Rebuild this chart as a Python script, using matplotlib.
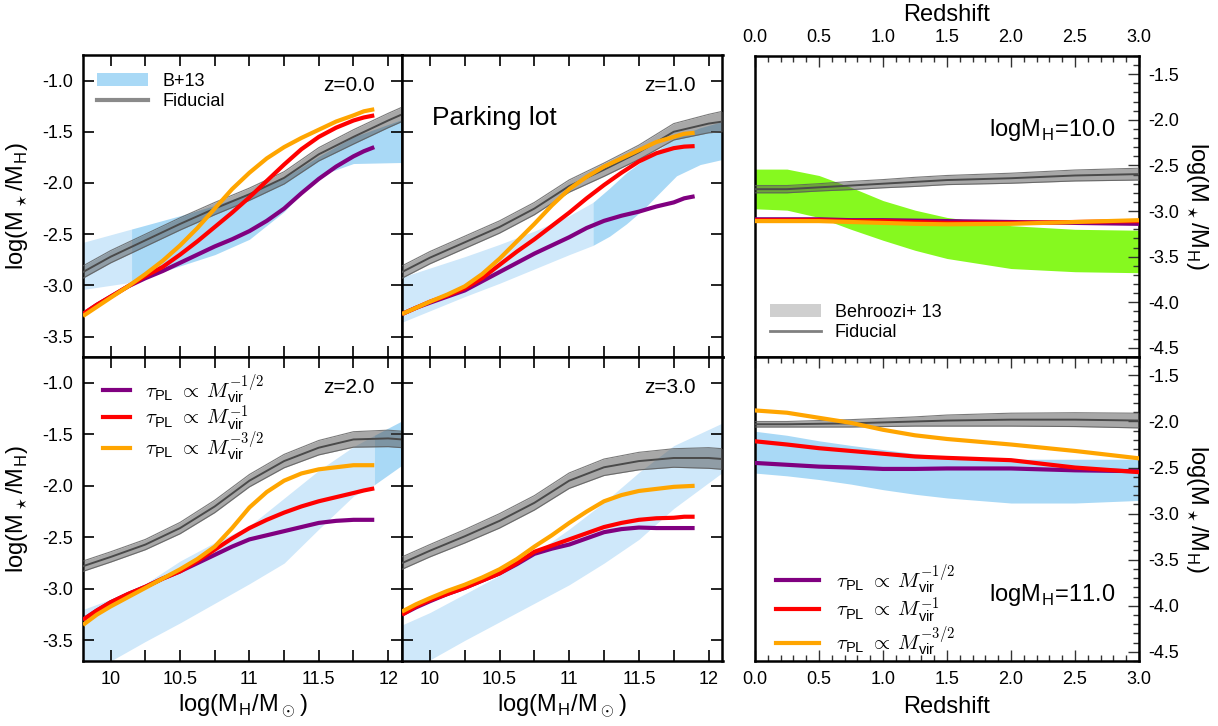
import numpy as np
import matplotlib
matplotlib.use('Agg')
import matplotlib.pyplot as plt
from matplotlib.ticker import MultipleLocator, FormatStrFormatter, FuncFormatter
from matplotlib.patches import Patch
from matplotlib.lines import Line2D

plt.rcParams['font.family'] = ['Liberation Sans', 'DejaVu Sans']
plt.rcParams['mathtext.fontset'] = 'cm'
plt.rcParams['axes.unicode_minus'] = False

# ---------------- data: left four panels (vs halo mass) ----------------
mh = [9.8, 9.9, 10.0, 10.125, 10.25, 10.375, 10.5, 10.625, 10.75, 10.875,
      11.0, 11.125, 11.25, 11.375, 11.5, 11.625, 11.75, 11.825, 11.9]
mh_fid = [9.8, 10.0, 10.25, 10.5, 10.75, 11.0, 11.25, 11.5, 11.75, 12.0, 12.1]

# z = 0
purple_z0 = [-3.28, -3.19, -3.11, -3.01, -2.93, -2.86, -2.78, -2.70, -2.62, -2.55,
             -2.47, -2.37, -2.25, -2.10, -1.96, -1.84, -1.74, -1.69, -1.65]
red_z0 = [-3.28, -3.19, -3.11, -3.01, -2.91, -2.82, -2.70, -2.57, -2.43, -2.29,
          -2.14, -1.98, -1.82, -1.67, -1.55, -1.46, -1.39, -1.36, -1.34]
orange_z0 = [-3.30, -3.21, -3.12, -3.01, -2.89, -2.76, -2.61, -2.44, -2.25, -2.06,
             -1.90, -1.76, -1.65, -1.56, -1.48, -1.40, -1.34, -1.30, -1.28]
fid_z0 = [-2.87, -2.72, -2.56, -2.40, -2.25, -2.11, -1.95, -1.72, -1.55, -1.39, -1.33]
fidw_z0 = [0.06, 0.06, 0.06, 0.06, 0.06, 0.06, 0.06, 0.065, 0.07, 0.07, 0.07]
b13x_z0 = [9.8, 10.15, 10.5, 10.75, 11.0, 11.25, 11.5, 11.75, 12.1]
b13lo_z0 = [-3.04, -2.97, -2.81, -2.70, -2.55, -2.28, -1.93, -1.81, -1.80]
b13hi_z0 = [-2.58, -2.45, -2.32, -2.22, -2.10, -1.95, -1.74, -1.55, -1.38]
b13min_z0 = 10.15

# z = 1
purple_z1 = [-3.28, -3.22, -3.17, -3.11, -3.05, -2.96, -2.87, -2.78, -2.69, -2.61,
             -2.53, -2.44, -2.37, -2.32, -2.28, -2.23, -2.19, -2.15, -2.13]
red_z1 = [-3.28, -3.22, -3.16, -3.10, -3.03, -2.93, -2.80, -2.67, -2.55, -2.42,
          -2.29, -2.15, -2.02, -1.90, -1.79, -1.71, -1.66, -1.645, -1.64]
orange_z1 = [-3.28, -3.22, -3.16, -3.09, -3.01, -2.89, -2.74, -2.57, -2.40, -2.22,
             -2.06, -1.94, -1.84, -1.76, -1.68, -1.60, -1.55, -1.52, -1.51]
fid_z1 = [-2.87, -2.73, -2.58, -2.43, -2.25, -2.03, -1.87, -1.70, -1.50, -1.42, -1.40]
fidw_z1 = [0.06, 0.06, 0.06, 0.06, 0.06, 0.06, 0.065, 0.07, 0.08, 0.09, 0.10]
b13x_z1 = [9.8, 10.25, 10.5, 10.75, 11.0, 11.17, 11.29, 11.41, 11.53, 11.77, 11.94, 12.1]
b13lo_z1 = [-3.36, -3.11, -2.98, -2.84, -2.70, -2.61, -2.52, -2.40, -2.26, -1.93, -1.82, -1.77]
b13hi_z1 = [-2.92, -2.72, -2.60, -2.47, -2.32, -2.19, -2.05, -1.90, -1.78, -1.55, -1.46, -1.40]
b13min_z1 = 11.17

# z = 2
purple_z2 = [-3.30, -3.21, -3.13, -3.05, -2.98, -2.90, -2.83, -2.75, -2.67, -2.59,
             -2.52, -2.48, -2.44, -2.40, -2.36, -2.34, -2.33, -2.33, -2.33]
red_z2 = [-3.30, -3.21, -3.13, -3.05, -2.98, -2.90, -2.83, -2.73, -2.62, -2.51,
          -2.41, -2.33, -2.26, -2.20, -2.15, -2.11, -2.07, -2.045, -2.025]
orange_z2 = [-3.35, -3.25, -3.17, -3.08, -2.99, -2.90, -2.81, -2.71, -2.59, -2.41,
             -2.21, -2.06, -1.95, -1.88, -1.84, -1.82, -1.80, -1.80, -1.80]
fid_z2 = [-2.78, -2.69, -2.57, -2.41, -2.20, -1.95, -1.76, -1.63, -1.55, -1.54, -1.55]
fidw_z2 = [0.05, 0.05, 0.05, 0.055, 0.06, 0.06, 0.065, 0.07, 0.075, 0.08, 0.08]
b13x_z2 = [9.8, 10.0, 10.25, 10.5, 10.75, 11.0, 11.25, 11.5, 11.75, 11.9, 12.1]
b13lo_z2 = [-3.84, -3.70, -3.51, -3.33, -3.14, -2.95, -2.75, -2.42, -2.10, -1.99, -1.80]
b13hi_z2 = [-3.20, -3.10, -2.95, -2.73, -2.55, -2.39, -2.12, -1.85, -1.62, -1.51, -1.37]
b13min_z2 = 11.9

# z = 3
purple_z3 = [-3.25, -3.18, -3.12, -3.05, -2.99, -2.92, -2.85, -2.76, -2.66, -2.61,
             -2.57, -2.51, -2.45, -2.42, -2.405, -2.41, -2.41, -2.41, -2.41]
red_z3 = [-3.25, -3.17, -3.11, -3.05, -2.99, -2.92, -2.85, -2.75, -2.64, -2.58,
          -2.52, -2.46, -2.40, -2.36, -2.33, -2.315, -2.31, -2.30, -2.30]
orange_z3 = [-3.22, -3.15, -3.09, -3.02, -2.96, -2.89, -2.81, -2.71, -2.59, -2.48,
             -2.36, -2.25, -2.15, -2.09, -2.05, -2.03, -2.01, -2.005, -2.00]
fid_z3 = [-2.75, -2.63, -2.49, -2.34, -2.165, -1.95, -1.82, -1.76, -1.73, -1.73, -1.74]
fidw_z3 = [0.06, 0.06, 0.065, 0.07, 0.07, 0.075, 0.08, 0.085, 0.09, 0.1, 0.1]
b13x_z3 = [9.8, 10.0, 10.25, 10.5, 10.75, 11.0, 11.25, 11.5, 11.75, 12.1]
b13lo_z3 = [-3.85, -3.69, -3.50, -3.32, -3.14, -2.96, -2.75, -2.52, -2.22, -1.87]
b13hi_z3 = [-3.35, -3.23, -3.05, -2.87, -2.66, -2.42, -2.16, -1.87, -1.61, -1.39]
b13min_z3 = 99.0

# ---------------- data: right panels (vs redshift) ----------------
zz = [0.0, 0.25, 0.5, 0.75, 1.0, 1.25, 1.5, 2.0, 2.5, 3.0]

# logMH = 10
b13hi_m10 = [-2.54, -2.54, -2.61, -2.74, -2.885, -2.99, -3.07, -3.16, -3.20, -3.21]
b13lo_m10 = [-2.975, -2.99, -3.07, -3.20, -3.32, -3.43, -3.52, -3.63, -3.665, -3.676]
fid_m10 = [-2.76, -2.76, -2.74, -2.72, -2.70, -2.68, -2.66, -2.64, -2.61, -2.595]
fidw_m10 = [0.04, 0.04, 0.04, 0.045, 0.045, 0.05, 0.05, 0.055, 0.06, 0.065]
purple_m10 = [-3.09, -3.09, -3.09, -3.10, -3.10, -3.105, -3.11, -3.12, -3.13, -3.14]
red_m10 = [-3.10, -3.10, -3.10, -3.11, -3.11, -3.12, -3.13, -3.13, -3.12, -3.11]
orange_m10 = [-3.11, -3.11, -3.11, -3.12, -3.13, -3.14, -3.145, -3.14, -3.12, -3.10]

# logMH = 11
b13hi_m11 = [-2.106, -2.15, -2.21, -2.26, -2.305, -2.35, -2.38, -2.41, -2.41, -2.41]
b13lo_m11 = [-2.56, -2.59, -2.63, -2.68, -2.74, -2.79, -2.83, -2.885, -2.885, -2.857]
fid_m11 = [-2.03, -2.03, -2.025, -2.02, -2.01, -2.0, -1.99, -1.98, -1.98, -1.99]
fidw_m11 = [0.03, 0.03, 0.035, 0.04, 0.045, 0.05, 0.06, 0.07, 0.075, 0.08]
purple_m11 = [-2.45, -2.47, -2.49, -2.50, -2.515, -2.515, -2.51, -2.51, -2.53, -2.54]
red_m11 = [-2.215, -2.25, -2.29, -2.32, -2.35, -2.38, -2.395, -2.42, -2.50, -2.55]
orange_m11 = [-1.88, -1.905, -1.96, -2.015, -2.09, -2.15, -2.19, -2.25, -2.32, -2.40]

# ---------------- styles ----------------
C_PURPLE = '#800080'
C_RED = '#ff0000'
C_ORANGE = '#ffa500'
C_LIGHTBLUE = '#cfe8fa'
C_BLUE = '#a9d9f6'
C_GREEN = '#86f91f'
C_GRAYFILL = '#535353'
LW = 3.0
TICKFS = 13
LABFS = 17

leg_labels = [r'$\tau_{\mathregular{PL}}\;\propto\;M_{\mathregular{vir}}^{-1/2}$',
              r'$\tau_{\mathregular{PL}}\;\propto\;M_{\mathregular{vir}}^{-1}$',
              r'$\tau_{\mathregular{PL}}\;\propto\;M_{\mathregular{vir}}^{-3/2}$']

fig = plt.figure(figsize=(12.18, 7.26), dpi=100)

W, H = 1218.0, 726.0


def axes_px(x0, y0, x1, y1):
    return fig.add_axes([x0 / W, 1 - y1 / H, (x1 - x0) / W, (y1 - y0) / H])


def fid_band(ax, x, c, w):
    c = np.asarray(c)
    w = np.asarray(w)
    ax.fill_between(x, c - w, c + w, color=C_GRAYFILL, alpha=0.5, lw=0, zorder=3)
    ax.plot(x, c - w, color='#5a5a5a', lw=0.8, alpha=0.8, zorder=3)
    ax.plot(x, c + w, color='#5a5a5a', lw=0.8, alpha=0.8, zorder=3)
    ax.plot(x, c, color='#4a4a4a', lw=1.4, zorder=3)


def left_panel(ax, purple, red, orange, fid, fidw, bx, blo, bhi, bmin, zlab,
               xlabels, ylabels):
    bx = np.asarray(bx)
    ax.fill_between(bx, blo, bhi, where=bx <= bmin, color=C_LIGHTBLUE, lw=0,
                    zorder=1)
    ax.fill_between(bx, blo, bhi, where=bx >= bmin, color=C_BLUE, lw=0, zorder=1)
    fid_band(ax, mh_fid, fid, fidw)
    ax.plot(mh, purple, color=C_PURPLE, lw=LW, zorder=4, solid_capstyle='butt')
    ax.plot(mh, red, color=C_RED, lw=LW, zorder=5, solid_capstyle='butt')
    ax.plot(mh, orange, color=C_ORANGE, lw=LW, zorder=6, solid_capstyle='butt')
    ax.set_xlim(9.8, 12.1)
    ax.set_ylim(-3.7, -0.75)
    ax.xaxis.set_major_locator(MultipleLocator(0.5))
    ax.xaxis.set_minor_locator(MultipleLocator(0.25))
    ax.yaxis.set_major_locator(MultipleLocator(0.5))
    ax.xaxis.set_major_formatter(FuncFormatter(lambda v, p: '%g' % v))
    ax.yaxis.set_major_formatter(FormatStrFormatter('%.1f'))
    ax.tick_params(which='both', direction='in', top=True, right=True,
                   length=8, width=1.2, labelsize=TICKFS, pad=7,
                   labelbottom=xlabels, labelleft=ylabels)
    for s in ax.spines.values():
        s.set_linewidth(1.8)
    ax.text(0.915, 0.90, zlab, transform=ax.transAxes, ha='right', va='center',
            fontsize=15, zorder=10)
    if xlabels:
        ax.set_xlabel(r'log(M$_\mathregular{H}$/M$_\odot$)', fontsize=LABFS,
                      labelpad=4)
    if ylabels:
        ax.set_ylabel(r'log(M$_\star$/M$_\mathregular{H}$)', fontsize=LABFS)
        ax.yaxis.set_label_coords(-0.165, 0.5)


ax0 = axes_px(83, 55, 402, 357)
ax1 = axes_px(402, 55, 722.5, 357)
ax2 = axes_px(83, 357, 402, 661)
ax3 = axes_px(402, 357, 722.5, 661)

left_panel(ax0, purple_z0, red_z0, orange_z0, fid_z0, fidw_z0,
           b13x_z0, b13lo_z0, b13hi_z0, b13min_z0, 'z=0.0', False, True)
left_panel(ax1, purple_z1, red_z1, orange_z1, fid_z1, fidw_z1,
           b13x_z1, b13lo_z1, b13hi_z1, b13min_z1, 'z=1.0', False, False)
left_panel(ax2, purple_z2, red_z2, orange_z2, fid_z2, fidw_z2,
           b13x_z2, b13lo_z2, b13hi_z2, b13min_z2, 'z=2.0', True, True)
left_panel(ax3, purple_z3, red_z3, orange_z3, fid_z3, fidw_z3,
           b13x_z3, b13lo_z3, b13hi_z3, b13min_z3, 'z=3.0', True, False)

ax1.text(0.093, 0.79, 'Parking lot', transform=ax1.transAxes, ha='left',
         va='center', fontsize=19, zorder=10)

h1 = [Patch(facecolor=C_BLUE, edgecolor='none'),
      Line2D([], [], color='#8a8a8a', lw=3)]
ax0.legend(h1, ['B+13', 'Fiducial'], loc='upper left', frameon=False,
           bbox_to_anchor=(0.044, 0.942), borderpad=0, borderaxespad=0,
           fontsize=13, handlelength=2.8, handletextpad=0.8, labelspacing=0.2)

h2 = [Line2D([], [], color=C_PURPLE, lw=LW),
      Line2D([], [], color=C_RED, lw=LW),
      Line2D([], [], color=C_ORANGE, lw=LW)]
ax2.legend(h2, leg_labels, loc='upper left', frameon=False,
           bbox_to_anchor=(0.063, 0.95), borderpad=0, borderaxespad=0,
           fontsize=15, handlelength=1.3, handletextpad=0.7, labelspacing=-0.12)


# ---------------- right panels ----------------
def right_panel(ax, bhi, blo, bcol, fid, fidw, purple, red, orange, mlab,
                top):
    ax.fill_between(zz, blo, bhi, color=bcol, lw=0, zorder=1)
    fid_band(ax, zz, fid, fidw)
    ax.plot(zz, purple, color=C_PURPLE, lw=LW, zorder=4)
    ax.plot(zz, red, color=C_RED, lw=LW, zorder=5)
    ax.plot(zz, orange, color=C_ORANGE, lw=LW, zorder=6)
    ax.set_xlim(0, 3.0)
    ax.set_ylim(-4.6, -1.3)
    ax.xaxis.set_major_locator(MultipleLocator(0.5))
    ax.xaxis.set_minor_locator(MultipleLocator(0.1))
    ax.yaxis.set_major_locator(MultipleLocator(0.5))
    ax.yaxis.set_minor_locator(MultipleLocator(0.1))
    ax.xaxis.set_major_formatter(FormatStrFormatter('%.1f'))
    ax.yaxis.set_major_formatter(FormatStrFormatter('%.1f'))
    ax.yaxis.tick_right()
    ax.yaxis.set_label_position('right')
    ax.tick_params(which='both', direction='in', left=False, right=True,
                   labelleft=False, labelright=True, width=1.0,
                   labelsize=TICKFS, pad=7, colors='#333333',
                   labelcolor='black')
    ax.tick_params(which='major', length=8)
    ax.tick_params(which='minor', length=4)
    if top:
        ax.xaxis.tick_top()
        ax.xaxis.set_label_position('top')
        ax.tick_params(axis='x', which='both', top=True, bottom=False,
                       labeltop=True, labelbottom=False)
    else:
        ax.tick_params(axis='x', which='both', top=True, bottom=True,
                       labeltop=False, labelbottom=True)
    for s in ax.spines.values():
        s.set_linewidth(1.8)
    ax.set_xlabel('Redshift', fontsize=LABFS, labelpad=6)
    ax.set_ylabel(r'log(M$_\star$/M$_\mathregular{H}$)', fontsize=LABFS,
                  rotation=270, labelpad=22)
    y = 0.754 if top else 0.217
    ax.text(0.94, y, mlab, transform=ax.transAxes, ha='right', va='center',
            fontsize=17, zorder=10)


ax4 = axes_px(755, 56, 1139, 357)
ax5 = axes_px(755, 357, 1139, 661)
right_panel(ax4, b13hi_m10, b13lo_m10, C_GREEN, fid_m10, fidw_m10,
            purple_m10, red_m10, orange_m10, r'logM$_\mathregular{H}$=10.0', True)
right_panel(ax5, b13hi_m11, b13lo_m11, C_BLUE, fid_m11, fidw_m11,
            purple_m11, red_m11, orange_m11, r'logM$_\mathregular{H}$=11.0', False)

h3 = [Patch(facecolor='#cfcfcf', edgecolor='none'),
      Line2D([], [], color='#808080', lw=2)]
ax4.legend(h3, ['Behroozi+ 13', 'Fiducial'], loc='upper left', frameon=False,
           bbox_to_anchor=(0.039, 0.177), borderpad=0, borderaxespad=0,
           fontsize=13, handlelength=2.8, handletextpad=0.8, labelspacing=0.2)
ax5.legend(h2, leg_labels, loc='upper left', frameon=False,
           bbox_to_anchor=(0.054, 0.325), borderpad=0, borderaxespad=0,
           fontsize=15, handlelength=2.1, handletextpad=0.8, labelspacing=0.0)

fig.savefig('out.png', dpi=100)
